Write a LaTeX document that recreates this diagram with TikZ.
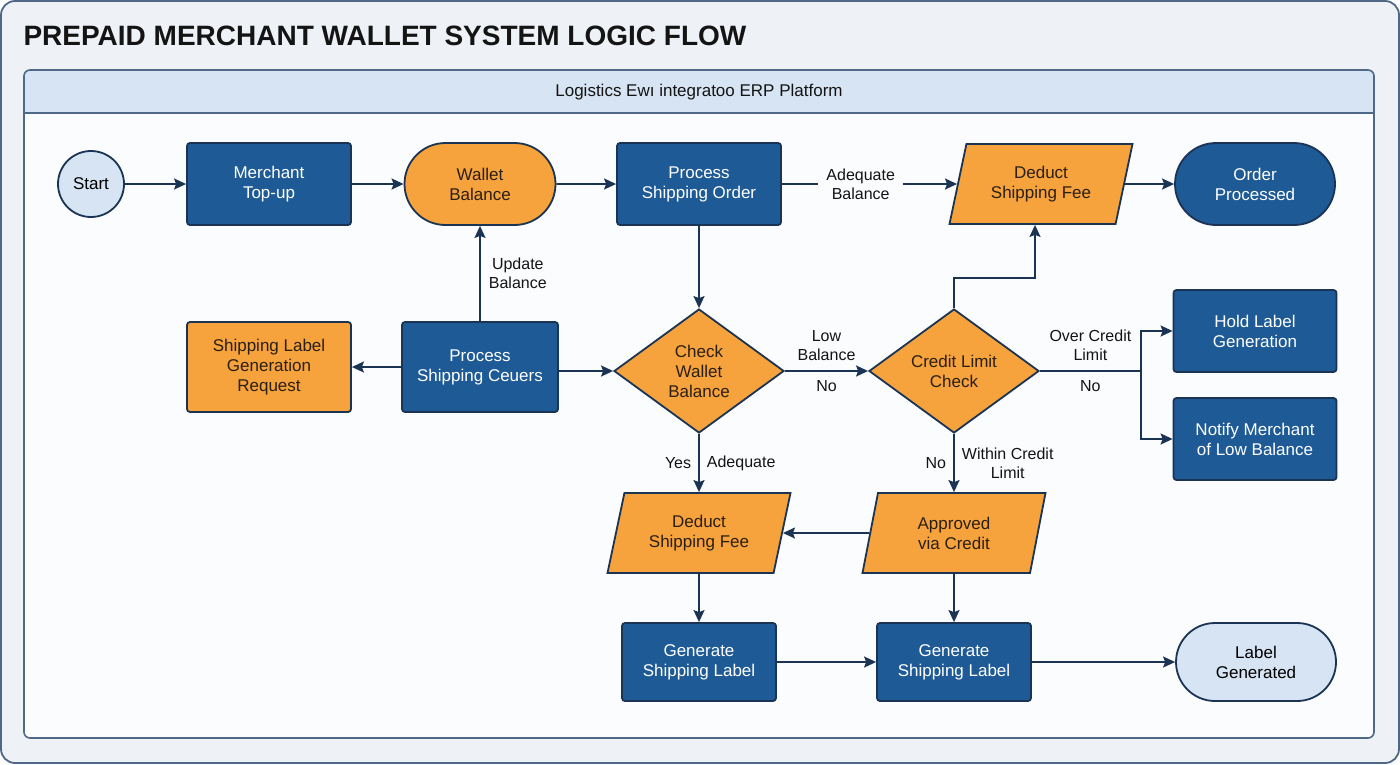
\documentclass[tikz,border=0pt]{standalone}
\usepackage{fontspec}
\setmainfont{Liberation Sans}
\usepackage{xcolor}
\usepackage{tikz}
\usetikzlibrary{shapes.geometric,shapes.misc,arrows.meta,positioning}

\definecolor{navy}{HTML}{1B3454}
\definecolor{boxblue}{HTML}{1E5A96}
\definecolor{boxorange}{HTML}{F6A33D}
\definecolor{paleblue}{HTML}{D6E4F3}
\definecolor{pagebg}{HTML}{EEF2F7}
\definecolor{panelbg}{HTML}{FBFCFE}
\definecolor{frameline}{HTML}{4F6888}
\definecolor{inkdark}{HTML}{2A1F14}

\begin{document}
\begin{tikzpicture}[
    on grid,
    x=1pt, y=1pt,
    font=\fontsize{17}{20}\selectfont,
    base/.style={draw=navy, line width=1.8pt, align=center, inner sep=2pt},
    bluebox/.style={base, rectangle, rounded corners=3pt, fill=boxblue, text=white, minimum width=164pt, minimum height=82pt},
    orangebox/.style={base, rectangle, rounded corners=3pt, fill=boxorange, text=inkdark, minimum width=164pt, minimum height=90pt},
    pill/.style={base, rounded rectangle, minimum width=164pt, minimum height=82pt},
    startnode/.style={base, circle, fill=paleblue, text=black, minimum size=66pt, inner sep=0pt},
    decision/.style={base, diamond, fill=boxorange, text=inkdark, minimum width=170pt, minimum height=124pt, inner sep=0pt},
    iobox/.style={base, trapezium, trapezium left angle=67, trapezium right angle=113, trapezium stretches body=true, fill=boxorange, text=inkdark, minimum width=183pt, minimum height=80pt},
    arrow/.style={-{Stealth[length=12pt,width=11pt,inset=2pt]}, line width=1.8pt, draw=navy},
    tag/.style={align=center, text=black!92, inner sep=1pt, font=\fontsize{16}{19}\selectfont}
]
% page and panel
\useasboundingbox (0,0) rectangle (1400,-764);
\fill[pagebg, draw=frameline, line width=1.8pt, rounded corners=14pt] (1,-1) rectangle (1399,-763);
\fill[panelbg, rounded corners=6pt] (24,-70) rectangle (1374,-738);
\begin{scope}
  \clip[rounded corners=6pt] (24,-70) rectangle (1374,-738);
  \fill[paleblue] (24,-70) rectangle (1374,-113);
\end{scope}
\draw[frameline, line width=1.6pt] (24,-113) -- (1374,-113);
\draw[frameline, line width=1.6pt, rounded corners=6pt] (24,-70) rectangle (1374,-738);

\node[anchor=west, text=black!92, font=\fontsize{28}{32}\selectfont\bfseries] (title) at (20,-36) {PREPAID MERCHANT WALLET SYSTEM LOGIC FLOW};
\node[text=black!92] (lane) at (699,-92) {Logistics Ewı integratoo ERP Platform};

% top row
\node[startnode] (start) at (91,-184) {Start};
\node[bluebox, right=178pt of start] (topup) {Merchant\\Top-up};
\node[pill, fill=boxorange, text=inkdark, minimum width=155pt, right=211pt of topup] (wallet) {Wallet\\Balance};
\node[bluebox, right=219pt of wallet] (order) {Process\\Shipping Order};
\node[iobox, right=342pt of order] (deducttop) {Deduct\\Shipping Fee};
\node[pill, fill=boxblue, text=white, right=214pt of deducttop] (processed) {Order\\Processed};

% middle row
\node[decision, below=187pt of order] (checkwallet) {Check\\Wallet\\Balance};
\node[bluebox, minimum width=156pt, minimum height=90pt, above left=4pt and 219pt of checkwallet] (queue) {Process\\Shipping Ceuers};
\node[orangebox, left=211pt of queue] (request) {Shipping Label\\Generation\\Request};
\node[decision, right=255pt of checkwallet] (creditcheck) {Credit Limit\\Check};
\node[bluebox, minimum width=163pt, above right=40pt and 301pt of creditcheck] (hold) {Hold Label\\Generation};
\node[bluebox, minimum width=163pt, below=108pt of hold] (notify) {Notify Merchant\\of Low Balance};

% lower rows
\node[iobox, below=162pt of checkwallet] (deductlow) {Deduct\\Shipping Fee};
\node[iobox, right=255pt of deductlow] (approved) {Approved\\via Credit};
\node[bluebox, minimum width=154pt, minimum height=78pt, below=129pt of deductlow] (labelone) {Generate\\Shipping Label};
\node[bluebox, minimum width=154pt, minimum height=78pt, below=129pt of approved] (labeltwo) {Generate\\Shipping Label};
\node[pill, fill=paleblue, text=black, minimum height=78pt, right=302pt of labeltwo] (generated) {Label\\Generated};

% connectors
\draw[arrow] (start) -- (topup);
\draw[arrow] (topup) -- (wallet);
\draw[arrow] (wallet) -- (order);
\draw[arrow] (order) -- node[tag, fill=panelbg, inner xsep=8pt, pos=0.45] {Adequate\\Balance} (deducttop);
\draw[arrow] (deducttop) -- (processed);
\draw[arrow] (order) -- (checkwallet);
\draw[arrow] (queue) -- node[tag, right=7pt] {Update\\Balance} (wallet);
\draw[arrow] (queue) -- (request);
\draw[arrow] (queue.east |- checkwallet) -- (checkwallet);
\draw[arrow] (checkwallet) -- node[tag, above=8pt] {Low\\Balance} node[tag, below=8pt] {No} (creditcheck);
\draw[arrow] (creditcheck.north) -- ++(0,30) -| ([xshift=-6pt]deducttop.south);
\draw[navy, line width=1.8pt] (creditcheck.east) -- node[tag, above=8pt] {Over Credit\\Limit} node[tag, below=8pt] {No} ++(101,0) coordinate (fork);
\draw[arrow] (fork) |- (hold);
\draw[arrow] (fork) |- (notify);
\draw[arrow] (checkwallet) -- node[tag, left=6pt] {Yes} node[tag, right=6pt] {Adequate} (deductlow);
\draw[arrow] (creditcheck) -- node[tag, left=6pt] {No} node[tag, right=6pt] {Within Credit\\Limit} (approved);
\draw[arrow] (approved) -- (deductlow);
\draw[arrow] (deductlow) -- (labelone);
\draw[arrow] (approved) -- (labeltwo);
\draw[arrow] (labelone) -- (labeltwo);
\draw[arrow] (labeltwo) -- (generated);
\end{tikzpicture}
\end{document}
